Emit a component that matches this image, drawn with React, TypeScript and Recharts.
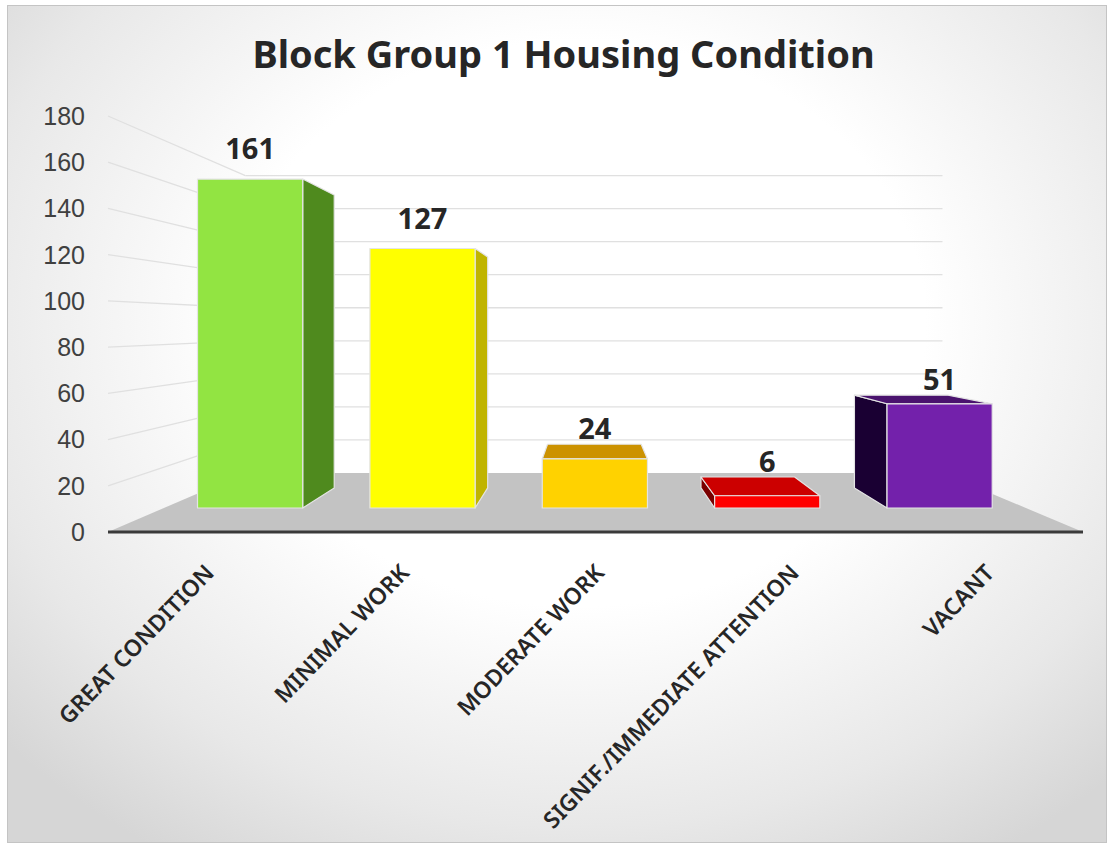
import React from 'react';
import { BarChart, Bar, XAxis, YAxis, CartesianGrid, LabelList } from 'recharts';

const categories = [
  'GREAT CONDITION',
  'MINIMAL WORK',
  'MODERATE WORK',
  'SIGNIF./IMMEDIATE ATTENTION',
  'VACANT',
];
const counts = [161, 127, 24, 6, 51];
const yTicks = [0, 20, 40, 60, 80, 100, 120, 140, 160, 180];

// face colours of each 3-D box: front, side, top
const barColors = [
  { front: '#92E442', side: '#4F8A1E', top: '#77BE30' },
  { front: '#FFFF00', side: '#C0B400', top: '#D6D600' },
  { front: '#FFD200', side: '#B08A00', top: '#CC9200' },
  { front: '#FF0000', side: '#7A0000', top: '#CC0000' },
  { front: '#7321AB', side: '#1A0033', top: '#4A136E' },
];

const data = categories.map((name, i) => ({ name, count: counts[i] }));

// fake perspective: everything shrinks toward a vanishing point
const VP_X = 583;
const VP_Y = 320;
const WALL_DEPTH = 0.715;
const BAR_FRONT = 0.884;
const BAR_BACK = 0.787;

const project = (x: number, y: number, k: number) => [VP_X + k * (x - VP_X), VP_Y + k * (y - VP_Y)];
const toPoints = (pts: number[][]) => pts.map((p) => p.join(',')).join(' ');

const WallLine = (props: any) => {
  const { x1, y1, x2, index } = props;
  const [bx1, by] = project(x1, y1, WALL_DEPTH);
  const [bx2] = project(x2, y1, WALL_DEPTH);
  const bottom = props.y != null && props.height != null ? props.y + props.height : null;
  const isFloor = bottom != null ? Math.abs(y1 - bottom) < 1 : index === 0;
  if (isFloor) {
    return (
      <polygon
        key={`floor-${index}`}
        points={toPoints([[x1, y1], [x2, y1], [bx2, by], [bx1, by]])}
        fill="#c3c3c3"
      />
    );
  }
  return (
    <g key={`wall-${index}`}>
      <line x1={x1} y1={y1} x2={bx1} y2={by} stroke="#e0e0e0" strokeWidth={1.3} />
      <line x1={bx1} y1={by} x2={bx2} y2={by} stroke="#e0e0e0" strokeWidth={1.3} />
    </g>
  );
};

const Box3D = (props: any) => {
  const { x, y, width, height, index } = props;
  const c = barColors[index % barColors.length];
  const top = Math.min(y, y + height);
  const bot = Math.max(y, y + height);
  const [fl, ft] = project(x, top, BAR_FRONT);
  const [fr, fb] = project(x + width, bot, BAR_FRONT);
  const [bl, bt] = project(x, top, BAR_BACK);
  const [br, bb] = project(x + width, bot, BAR_BACK);
  const edge = { stroke: '#e4e4e4', strokeWidth: 1.2, strokeLinejoin: 'round' as const };
  return (
    <g>
      {fr < VP_X && (
        <polygon points={toPoints([[fr, ft], [br, bt], [br, bb], [fr, fb]])} fill={c.side} {...edge} />
      )}
      {fl > VP_X && (
        <polygon points={toPoints([[fl, ft], [bl, bt], [bl, bb], [fl, fb]])} fill={c.side} {...edge} />
      )}
      {ft > VP_Y && (
        <polygon points={toPoints([[fl, ft], [fr, ft], [br, bt], [bl, bt]])} fill={c.top} {...edge} />
      )}
      <rect x={fl} y={ft} width={fr - fl} height={fb - ft} fill={c.front} {...edge} />
    </g>
  );
};

const BoxLabel = (props: any) => {
  const vb = props.viewBox ?? props;
  const { x, y, width, height } = vb;
  const top = Math.min(y, y + height);
  const [cx, ft] = project(x + width / 2, top, BAR_FRONT);
  const [, bt] = project(x + width / 2, top, BAR_BACK);
  const baseline = ft > VP_Y ? bt - 5 : ft - 20;
  return (
    <text
      x={cx}
      y={baseline}
      textAnchor="middle"
      fontFamily="Noto Sans"
      fontWeight={700}
      fontSize={29}
      fill="#262626"
    >
      {props.value}
    </text>
  );
};

const CategoryTick = ({ x, y, payload }: any) => (
  <text
    transform={`translate(${x + 10},${y + 40}) rotate(-46)`}
    textAnchor="end"
    fontFamily="Noto Sans"
    fontWeight={600}
    fontSize={23}
    fill="#262626"
  >
    {payload.value}
  </text>
);

export default function App() {
  return (
    <div
      style={{
        position: 'absolute',
        left: 7,
        top: 5,
        width: 1100,
        height: 838,
        background: 'radial-gradient(ellipse 70% 75% at 52% 38%, #ffffff 45%, #e8e8e8 80%, #d6d6d6 100%)',
        boxShadow: 'inset 0 0 0 1px #c4c4c4',
      }}
    >
      <div
        style={{
          position: 'absolute',
          top: 28,
          left: 0,
          width: 1100,
          paddingLeft: 13,
          boxSizing: 'border-box',
          textAlign: 'center',
          fontFamily: 'Noto Sans',
          fontWeight: 700,
          fontSize: 38,
          lineHeight: '40px',
          color: '#262626',
        }}
      >
        Block Group 1 Housing Condition
      </div>
      <BarChart
        width={1100}
        height={838}
        data={data}
        margin={{ top: 111, right: 24, bottom: 61, left: 21 }}
        style={{ position: 'absolute', left: 0, top: 0 }}
      >
        <CartesianGrid vertical={false} horizontal={WallLine} />
        <XAxis
          dataKey="name"
          interval={0}
          height={250}
          tickSize={0}
          tickLine={false}
          axisLine={{ stroke: '#3a3a3a', strokeWidth: 3 }}
          tick={<CategoryTick />}
        />
        <YAxis
          domain={[0, 180]}
          ticks={yTicks}
          width={80}
          axisLine={false}
          tickLine={false}
          tickSize={0}
          tickMargin={23}
          tick={{ fontFamily: 'Liberation Sans', fontSize: 25, fill: '#404040' }}
        />
        <Bar dataKey="count" barSize={119} shape={<Box3D />} isAnimationActive={false}>
          <LabelList dataKey="count" content={<BoxLabel />} />
        </Bar>
      </BarChart>
    </div>
  );
}
